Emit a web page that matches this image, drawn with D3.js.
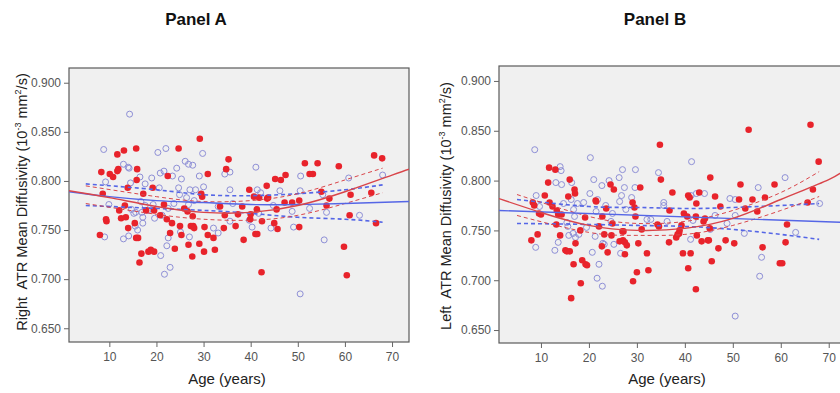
<!DOCTYPE html>
<html>
<head>
<meta charset="utf-8">
<script src="https://cdn.jsdelivr.net/npm/d3@7"></script>
<style>
  body { margin: 0; background: #fff; }
  svg { display: block; font-family: "Liberation Sans", Arial, sans-serif; }
  text { white-space: pre; }
</style>
</head>
<body>
<div id="chart"></div>
<script>
// Panel A – right ATR, [age, MD] pairs
const aFemale = [[8.0,.745],[8.3,.809],[8.6,.787],[9.3,.761],[9.4,.759],[10.1,.807],[10.8,.804],[11.7,.810],[11.9,.812],[11.7,.827],[13.1,.831],[12.1,.770],[12.5,.762],[13.3,.775],[13.5,.763],[14.0,.752],[13.9,.793],[15.7,.833],[15.8,.801],[15.9,.812],[15.4,.757],[15.7,.742],[16.1,.742],[16.4,.717],[16.8,.726],[17.2,.787],[17.8,.770],[18.3,.728],[18.8,.730],[19.5,.728],[19.2,.793],[19.5,.770],[20.8,.765],[21.6,.776],[22.2,.761],[22.4,.805],[22.9,.747],[23.3,.757],[23.9,.731],[24.7,.833],[25.0,.754],[25.3,.745],[25.9,.772],[26.6,.769],[26.8,.735],[27.6,.723],[27.7,.764],[27.3,.754],[27.8,.754],[28.0,.752],[29.1,.736],[29.2,.843],[29.7,.784],[29.5,.787],[30.1,.728],[30.2,.753],[30.9,.807],[30.9,.745],[32.1,.742],[32.4,.730],[33.5,.774],[34.3,.752],[34.5,.765],[34.8,.812],[35.3,.822],[36.8,.754],[37.3,.766],[38.2,.774],[38.5,.740],[39.7,.791],[39.9,.761],[40.0,.766],[40.7,.784],[41.0,.746],[41.4,.746],[41.3,.771],[41.8,.783],[42.3,.707],[42.4,.759],[43.4,.795],[43.5,.782],[43.7,.783],[45.0,.757],[45.2,.802],[45.5,.771],[45.7,.751],[46.4,.801],[47.2,.778],[47.4,.806],[48.8,.778],[50.3,.753],[50.3,.780],[51.5,.818],[52.5,.807],[53.2,.807],[54.2,.818],[55.0,.789],[56.1,.775],[56.7,.782],[58.7,.815],[59.8,.733],[60.4,.704],[61.0,.765],[61.2,.786],[65.6,.788],[66.2,.826],[66.6,.757],[67.9,.823]];
const aMale = [[8.8,.832],[9.2,.799],[9.0,.743],[9.9,.776],[13.0,.741],[13.0,.817],[14.0,.814],[14.3,.868],[14.2,.813],[14.1,.744],[14.5,.798],[14.7,.771],[15.2,.767],[15.6,.768],[15.5,.754],[16.0,.750],[16.5,.804],[16.7,.779],[16.9,.768],[17.1,.763],[17.1,.757],[17.6,.797],[17.6,.775],[18.2,.770],[19.0,.803],[19.3,.776],[19.6,.762],[20.3,.829],[20.6,.793],[20.8,.808],[20.9,.724],[21.2,.765],[21.6,.810],[21.7,.705],[22.0,.833],[22.2,.734],[22.5,.772],[22.5,.742],[22.9,.712],[23.4,.805],[23.7,.777],[24.3,.813],[24.7,.793],[24.9,.786],[25.1,.748],[25.3,.802],[26.1,.820],[26.4,.783],[26.8,.817],[27.1,.791],[26.8,.776],[27.0,.743],[27.7,.816],[28.0,.780],[28.3,.791],[29.1,.805],[29.8,.828],[30.0,.794],[32.1,.752],[33.1,.747],[33.1,.774],[34.5,.807],[35.6,.809],[35.6,.791],[35.6,.759],[36.2,.777],[39.7,.760],[40.3,.753],[41.1,.814],[41.4,.791],[41.7,.767],[42.1,.788],[44.3,.752],[44.8,.775],[46.2,.790],[48.8,.769],[49.1,.753],[50.5,.790],[50.6,.805],[50.5,.685],[52.5,.772],[55.3,.786],[55.6,.740],[56.1,.768],[60.8,.803],[63.1,.765],[68.0,.806]];

// Panel B – left ATR
const bFemale = [[8.0,.740],[8.3,.778],[8.6,.775],[9.3,.746],[9.6,.767],[10.0,.766],[10.8,.785],[11.7,.813],[11.5,.798],[11.8,.778],[12.4,.774],[13.0,.811],[13.2,.756],[13.3,.770],[13.6,.766],[14.0,.745],[14.3,.766],[15.1,.730],[15.4,.729],[15.7,.784],[16.0,.801],[16.0,.729],[16.3,.682],[16.8,.716],[17.0,.791],[17.1,.787],[17.2,.737],[18.2,.750],[18.3,.697],[18.6,.720],[19.2,.763],[19.3,.716],[19.6,.715],[21.4,.780],[21.5,.779],[22.1,.754],[22.7,.734],[22.8,.764],[23.2,.746],[23.6,.772],[23.9,.728],[24.5,.796],[24.7,.745],[24.9,.757],[25.2,.791],[26.4,.739],[27.0,.749],[27.1,.740],[27.2,.749],[27.5,.738],[27.5,.726],[27.9,.735],[29.1,.778],[29.2,.699],[29.5,.773],[29.7,.764],[30.0,.708],[30.3,.737],[30.7,.793],[31.0,.751],[32.1,.727],[32.4,.710],[34.3,.756],[34.6,.754],[34.8,.836],[35.0,.801],[36.7,.738],[36.8,.770],[37.4,.788],[38.2,.743],[38.5,.746],[38.8,.747],[38.9,.750],[39.3,.755],[39.6,.727],[39.8,.767],[40.5,.764],[40.7,.785],[40.7,.712],[41.0,.783],[41.2,.727],[42.3,.691],[42.3,.764],[42.4,.777],[42.5,.745],[43.0,.788],[43.5,.739],[43.9,.759],[44.2,.762],[44.8,.740],[45.0,.740],[45.2,.752],[45.3,.803],[45.6,.719],[46.3,.784],[47.0,.732],[47.4,.774],[48.5,.740],[50.3,.737],[51.3,.781],[51.6,.796],[52.6,.772],[53.3,.851],[54.1,.781],[55.1,.769],[56.2,.733],[56.7,.783],[58.7,.796],[59.8,.717],[60.3,.717],[61.0,.738],[61.3,.756],[65.6,.778],[66.2,.856],[66.7,.791],[67.9,.819]];
const bMale = [[8.7,.831],[9.0,.785],[8.9,.733],[9.7,.774],[12.9,.730],[13.1,.798],[14.0,.814],[14.2,.810],[13.6,.738],[14.3,.796],[14.7,.777],[15.4,.758],[15.6,.754],[15.8,.745],[16.3,.781],[16.4,.798],[16.7,.747],[16.8,.771],[17.0,.764],[17.2,.743],[17.6,.777],[17.9,.746],[18.9,.778],[19.5,.753],[20.2,.787],[20.3,.823],[20.7,.728],[21.0,.801],[21.3,.744],[21.5,.769],[21.7,.702],[21.8,.781],[22.1,.716],[22.7,.795],[22.8,.694],[22.9,.737],[23.2,.736],[23.5,.775],[24.2,.800],[24.6,.759],[24.9,.767],[25.2,.736],[26.3,.803],[26.4,.779],[26.6,.727],[26.8,.785],[27.0,.811],[27.4,.793],[27.7,.771],[28.9,.783],[29.6,.793],[29.7,.811],[32.1,.761],[32.9,.761],[34.5,.808],[35.6,.778],[35.6,.775],[36.3,.759],[41.2,.741],[41.3,.785],[41.4,.819],[41.7,.760],[42.4,.787],[44.1,.787],[45.3,.751],[46.3,.765],[48.8,.757],[49.4,.782],[50.5,.781],[50.5,.765],[50.5,.664],[52.4,.747],[55.3,.793],[56.0,.723],[55.6,.704],[60.9,.803],[63.1,.748],[68.1,.777]];

// fit curves and 95% CI, [age, MD]
const aFitF = [[1.4,.790],[10,.783],[20,.774],[30,.768],[40,.768],[50,.775],[60,.789],[70,.806],[73.6,.812]];
const aFitM = [[1.4,.789],[10,.784],[20,.780],[30,.778],[40,.776],[50,.776],[60,.777],[73.6,.779]];
const aCiF = [[[5,.795],[20,.784],[30,.779],[40,.780],[50,.787],[60,.801],[68,.813]],
              [[5,.777],[20,.766],[30,.761],[40,.760],[50,.765],[60,.777],[68,.788]]];
const aCiM = [[[5,.797],[20,.791],[30,.786],[40,.785],[50,.787],[60,.791],[68,.796]],
              [[5,.775],[20,.772],[30,.770],[40,.767],[50,.763],[60,.761],[68,.758]]];

const bFitF = [[1.2,.782],[10,.768],[20,.755],[30,.750],[40,.752],[50,.762],[60,.781],[70,.801],[73.6,.812]];
const bFitM = [[1.2,.770],[73.6,.758]];
const bCiF = [[[5,.786],[20,.764],[30,.757],[40,.759],[50,.770],[60,.788],[68,.809]],
              [[5,.765],[20,.748],[30,.745],[40,.746],[50,.755],[60,.770],[68,.784]]];
const bCiM = [[[5,.781],[20,.774],[30,.773],[40,.772],[50,.773],[60,.775],[68,.777]],
              [[5,.757],[20,.756],[30,.755],[40,.754],[50,.751],[60,.746],[68,.741]]];

const xTicks = [10, 20, 30, 40, 50, 60, 70];
const yTicks = [0.650, 0.700, 0.750, 0.800, 0.850, 0.900];

const W = 840, H = 393;
const svg = d3.select('#chart').append('svg').attr('width', W).attr('height', H);

const RED = '#e8232b', BLUE_PT = '#8e8fd6', BLUE_LN = '#5566e6', RED_LN = '#d9454a';

function panel(o) {
  const x = d3.scaleLinear().domain(o.xDom).range([o.l, o.r]);
  const y = d3.scaleLinear().domain(o.yDom).range([o.b, o.t]);
  const g = svg.append('g');

  g.append('rect').attr('x', o.l).attr('y', o.t).attr('width', o.r - o.l).attr('height', o.b - o.t)
    .attr('fill', '#f0f0f0').attr('stroke', '#5a5a5a').attr('stroke-width', 1.2);

  const ax = g.append('g').attr('transform', `translate(0,${o.b})`)
    .call(d3.axisBottom(x).tickValues(xTicks).tickSize(5).tickSizeOuter(0));
  const ay = g.append('g').attr('transform', `translate(${o.l},0)`)
    .call(d3.axisLeft(y).tickValues(yTicks).tickFormat(d3.format('.3f')).tickSize(5).tickSizeOuter(0));
  [ax, ay].forEach(a => {
    a.select('.domain').remove();
    a.selectAll('line').attr('stroke', '#666');
    a.selectAll('text').attr('fill', '#555').attr('font-size', 12)
      .attr('font-family', '"Liberation Sans", Arial, sans-serif');
  });
  ax.selectAll('text').attr('dy', '0.95em');

  const clip = 'clip' + o.id;
  g.append('clipPath').attr('id', clip).append('rect')
    .attr('x', o.l).attr('y', o.t).attr('width', o.r - o.l).attr('height', o.b - o.t);
  const p = g.append('g').attr('clip-path', `url(#${clip})`);

  p.selectAll('circle.m').data(o.male).enter().append('circle')
    .attr('cx', d => x(d[0])).attr('cy', d => y(d[1])).attr('r', 3)
    .attr('fill', 'none').attr('stroke', BLUE_PT).attr('stroke-width', 1);
  p.selectAll('circle.f').data(o.female).enter().append('circle')
    .attr('cx', d => x(d[0])).attr('cy', d => y(d[1])).attr('r', 3.3)
    .attr('fill', RED);

  const line = d3.line().x(d => x(d[0])).y(d => y(d[1])).curve(d3.curveNatural);
  o.ciM.forEach(c => p.append('path').attr('d', line(c)).attr('fill', 'none')
    .attr('stroke', BLUE_LN).attr('stroke-width', 1.6).attr('stroke-dasharray', '4,3'));
  o.ciF.forEach(c => p.append('path').attr('d', line(c)).attr('fill', 'none')
    .attr('stroke', RED_LN).attr('stroke-width', 1).attr('stroke-dasharray', '4,3'));
  p.append('path').attr('d', line(o.fitM)).attr('fill', 'none').attr('stroke', BLUE_LN).attr('stroke-width', 1.4);
  p.append('path').attr('d', line(o.fitF)).attr('fill', 'none').attr('stroke', RED_LN).attr('stroke-width', 1.4);

  svg.append('text').attr('x', o.titleX).attr('y', 25).attr('text-anchor', 'middle')
    .attr('font-size', 17).attr('font-weight', 'bold').attr('fill', '#111').text(o.title);

  svg.append('text').attr('x', o.xLabX).attr('y', 384).attr('text-anchor', 'middle')
    .attr('font-size', 15).attr('fill', '#222').text('Age (years)');

  const yl = svg.append('text').attr('text-anchor', 'middle').attr('font-size', 14.5).attr('fill', '#222')
    .attr('transform', `translate(${o.yLabX},${o.yLabY}) rotate(-90)`);
  yl.append('tspan').text(o.side + '  ATR Mean Diffusivity (10');
  yl.append('tspan').attr('font-size', 9).attr('dy', -6).text('-3');
  yl.append('tspan').attr('dy', 6).text(' mm');
  yl.append('tspan').attr('font-size', 9).attr('dy', -6).text('2');
  yl.append('tspan').attr('dy', 6).text('/s)');
}

panel({ id: 'A', l: 69, r: 409, t: 68, b: 342, xDom: [1.44, 73.6], yDom: [0.636, 0.915],
  female: aFemale, male: aMale, fitF: aFitF, fitM: aFitM, ciF: aCiF, ciM: aCiM,
  title: 'Panel A', titleX: 196, xLabX: 227, yLabX: 27, yLabY: 202, side: 'Right' });
panel({ id: 'B', l: 499, r: 846, t: 66, b: 343, xDom: [1.25, 73.6], yDom: [0.637, 0.915],
  female: bFemale, male: bMale, fitF: bFitF, fitM: bFitM, ciF: bCiF, ciM: bCiM,
  title: 'Panel B', titleX: 655, xLabX: 667, yLabX: 451, yLabY: 206, side: 'Left' });
</script>
</body>
</html>
